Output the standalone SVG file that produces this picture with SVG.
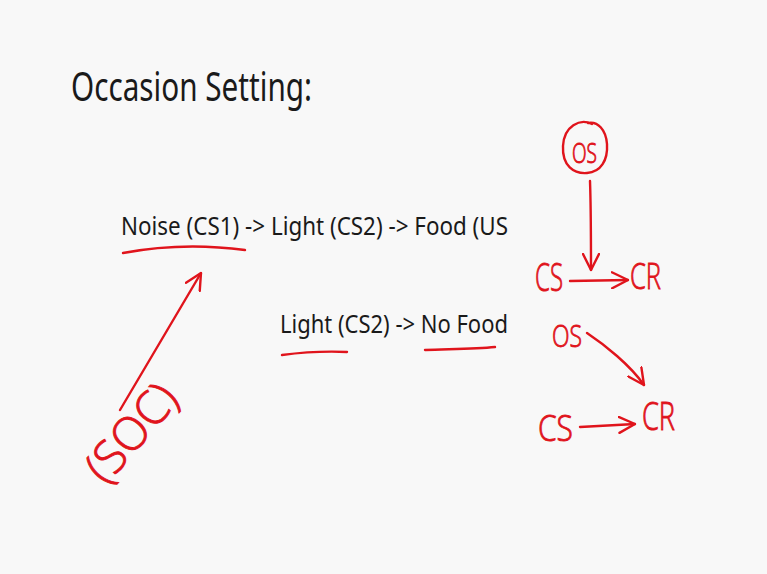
<svg xmlns="http://www.w3.org/2000/svg" width="767" height="574" viewBox="0 0 767 574">
<defs>
<style>
.slide{font-family:"Noto Sans","Open Sans","Liberation Sans",sans-serif;fill:#1a1a1a}
.hand{font-family:"Open Sans","DejaVu Sans","Liberation Sans",sans-serif;font-weight:300;fill:#e0141c;stroke:#e0141c;stroke-width:0.9}
.ink{fill:none;stroke:#e0141c;stroke-width:2.4;stroke-linecap:round;stroke-linejoin:round}
</style>
<marker id="vhs" viewBox="0 0 18 18" refX="17" refY="9" markerWidth="18" markerHeight="18" markerUnits="userSpaceOnUse" orient="auto">
<polyline points="1,1 17,9 1,17" fill="none" stroke="#e0141c" stroke-width="2.4" stroke-linecap="round" stroke-linejoin="round"/>
</marker>
</defs>
<rect width="767" height="574" fill="#f8f8f8"/>

<g id="title"><text class="slide" x="71" y="101" font-size="40" textLength="241" lengthAdjust="spacingAndGlyphs">Occasion Setting:</text></g>
<g id="line1"><text class="slide" x="121" y="235" font-size="26" textLength="387" lengthAdjust="spacingAndGlyphs">Noise (CS1) -&gt; Light (CS2) -&gt; Food (US</text></g>
<g id="line2"><text class="slide" x="280" y="333" font-size="26" textLength="228" lengthAdjust="spacingAndGlyphs">Light (CS2) -&gt; No Food</text></g>

<g id="os-top">
<path class="ink" d="M592,124 C580,118 564,126 563,146 C562,166 574,174 587,173 C601,172 608,160 607,144 C606,130 598,121 588,123"/>
<text class="hand" x="572" y="163" font-size="27" textLength="25" lengthAdjust="spacingAndGlyphs">OS</text>
</g>
<g id="cs-top"><text class="hand" x="535" y="291" font-size="38" textLength="28" lengthAdjust="spacingAndGlyphs">CS</text></g>
<g id="cr-top"><text class="hand" x="630" y="289" font-size="37" textLength="31" lengthAdjust="spacingAndGlyphs">CR</text></g>
<g id="os-bottom"><text class="hand" x="552" y="347" font-size="32" textLength="30" lengthAdjust="spacingAndGlyphs">OS</text></g>
<g id="cs-bottom"><text class="hand" x="538" y="441" font-size="37" textLength="35" lengthAdjust="spacingAndGlyphs">CS</text></g>
<g id="cr-bottom"><text class="hand" x="642" y="430" font-size="38" textLength="33" lengthAdjust="spacingAndGlyphs">CR</text></g>
<g id="soc"><text class="hand" x="0" y="0" font-size="46" textLength="114" lengthAdjust="spacingAndGlyphs" transform="translate(106,486) rotate(-49)">(SOC)</text></g>

<g id="connectors">
<path class="ink" d="M123,253 C160,246 200,244 245,250"/>
<path class="ink" d="M282,355 C305,352 325,351 347,352"/>
<path class="ink" d="M425,350 C450,349 475,349 495,347"/>
<path class="ink" d="M120,410 L201,273" marker-end="url(#vhs)"/>
<path class="ink" d="M590,181 C591,210 591,240 591,270" marker-end="url(#vhs)"/>
<path class="ink" d="M570,281 L628,280" marker-end="url(#vhs)"/>
<path class="ink" d="M587,333 C605,345 630,365 644,385" marker-end="url(#vhs)"/>
<path class="ink" d="M580,427 L635,424" marker-end="url(#vhs)"/>
</g>
</svg>
